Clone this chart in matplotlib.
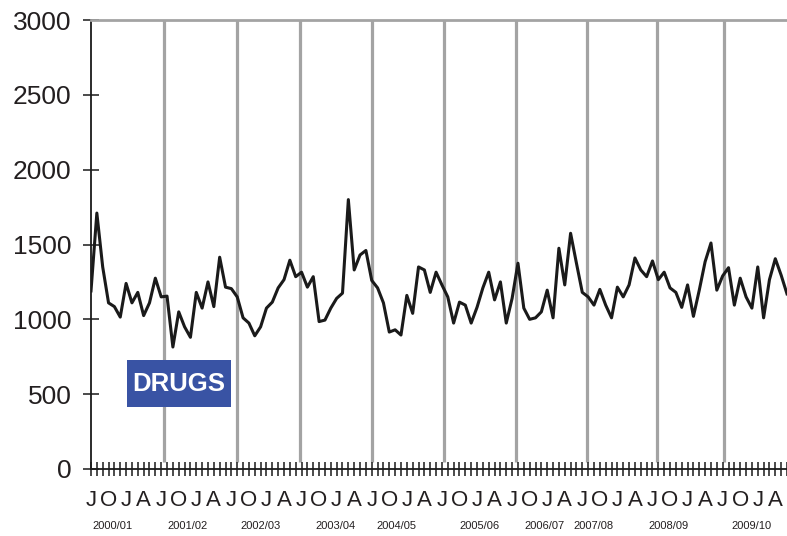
import matplotlib
matplotlib.use("Agg")
import matplotlib.pyplot as plt
from matplotlib.patches import Rectangle
from matplotlib.transforms import blended_transform_factory

plt.rcParams['font.family'] = ['Liberation Sans', 'DejaVu Sans']

# monthly counts, July 2000 .. June 2010
drugs = [1190, 1710, 1350, 1110, 1085, 1015, 1240, 1110, 1180, 1025, 1110, 1275,
         1150, 1155, 815, 1050, 950, 880, 1180, 1075, 1250, 1085, 1415, 1215,
         1205, 1150, 1010, 975, 890, 950, 1075, 1115, 1210, 1265, 1395, 1285,
         1315, 1215, 1285, 985, 995, 1075, 1140, 1175, 1800, 1330, 1430, 1460,
         1260, 1210, 1110, 915, 930, 895, 1160, 1040, 1350, 1330, 1180, 1315,
         1230, 1150, 975, 1115, 1095, 975, 1080, 1210, 1315, 1130, 1250, 975,
         1140, 1375, 1075, 1000, 1010, 1050, 1195, 1010, 1475, 1230, 1575, 1375,
         1180, 1150, 1095, 1200, 1095, 1010, 1215, 1150, 1230, 1410, 1330, 1285,
         1390, 1265, 1315, 1210, 1180, 1080, 1230, 1020, 1195, 1385, 1510, 1195,
         1290, 1345, 1095, 1275, 1150, 1075, 1350, 1010, 1265, 1405, 1295, 1170]
months = list(range(len(drugs)))

quarter_letters = ["J", "O", "J", "A"]
years = ["2000/01", "2001/02", "2002/03", "2003/04", "2004/05",
         "2005/06", "2006/07", "2007/08", "2008/09", "2009/10"]
year_label_pos = [3.75, 16.5, 29.0, 41.8, 52.2, 66.4, 77.5, 86.0, 98.8, 112.9]
dividers = [12.46, 24.9, 35.7, 48.1, 60.4, 72.7, 84.8, 96.8, 108.2]

fig = plt.figure(figsize=(7.87, 5.36), dpi=100)
ax = fig.add_axes([91 / 787, 1 - 469 / 536, 1 - 91 / 787, 449 / 536])

grey = '#a3a3a3'
ax.vlines(dividers, 47, 3000, colors=grey, linewidth=2.3, zorder=1)
ax.plot(months, drugs, color='#1a1a1a', linewidth=2.2,
        solid_joinstyle='round', zorder=3)

ax.set_xlim(0, 118.8)
ax.set_ylim(0, 3000)

ax.spines['right'].set_visible(False)
ax.spines['top'].set_color(grey)
ax.spines['top'].set_linewidth(2.0)
ax.spines['left'].set_linewidth(1.3)
ax.spines['bottom'].set_linewidth(1.3)
ax.spines['left'].set_color('#1a1a1a')
ax.spines['bottom'].set_color('#1a1a1a')

ax.set_yticks(range(0, 3001, 500))
ax.tick_params(axis='y', direction='inout', length=12, width=1.1,
               labelsize=19, pad=8, colors='#1a1a1a', labelcolor='#231f20')

ax.set_xticks(months[::3])
ax.set_xticklabels([quarter_letters[i % 4] for i in range(len(months[::3]))])
ax.set_xticks(months, minor=True)
ax.tick_params(axis='x', which='both', direction='inout', length=10, width=1.1,
               colors='#1a1a1a')
ax.tick_params(axis='x', which='major', labelsize=16, pad=10,
               labelcolor='#231f20')

trans = blended_transform_factory(ax.transData, ax.transAxes)
for pos, lab in zip(year_label_pos, years):
    ax.text(pos, -0.127, lab, transform=trans, ha='center', va='center',
            fontsize=8, color='#231f20', clip_on=False)

ax.add_patch(Rectangle((0.0517, 0.138), 0.1494, 0.1047, transform=ax.transAxes,
                       facecolor='#3953a4', edgecolor='none', zorder=4))
ax.text(0.0517 + 0.1494 / 2, 0.138 + 0.1047 / 2, "DRUGS", transform=ax.transAxes,
        ha='center', va='center', color='white', fontsize=18.5,
        fontweight='bold', zorder=5)

fig.savefig("out.png", dpi=100)
